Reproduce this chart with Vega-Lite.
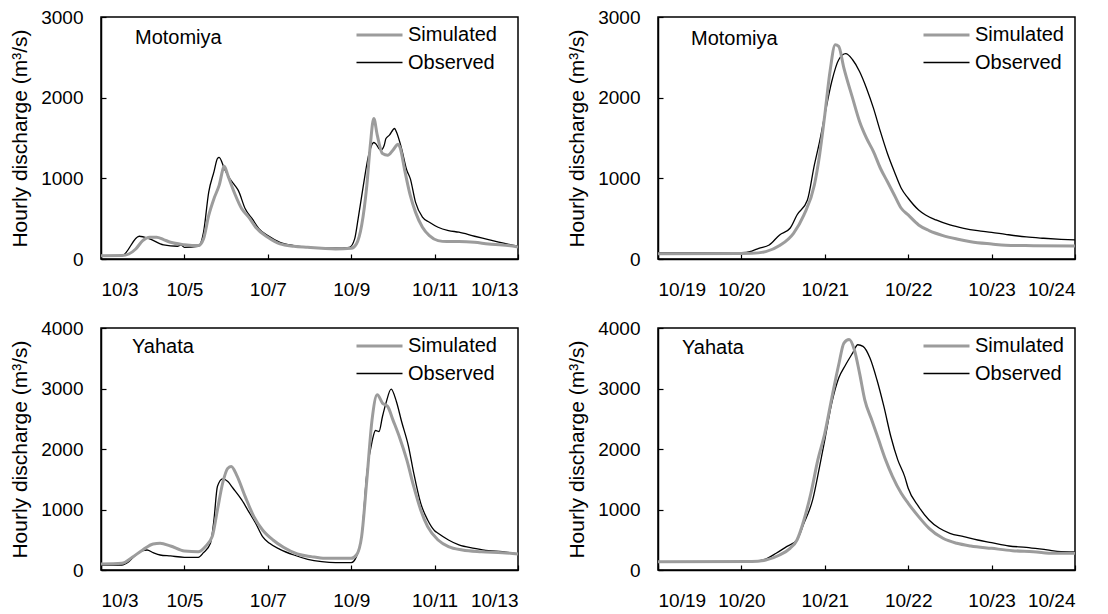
{
  "$schema": "https://vega.github.io/schema/vega-lite/v6.json",
  "background": "white",
  "padding": {"left": 8, "top": 7, "right": 5, "bottom": 5},
  "config": {
    "font": "Liberation Sans",
    "view": {"stroke": "#000", "strokeWidth": 1.5},
    "line": {"interpolate": "monotone"},
    "axis": {"grid": false, "domainColor": "#000", "domainWidth": 1.5, "tickColor": "#000", "tickWidth": 1.2, "tickSize": -5, "labelFont": "Liberation Sans", "labelFontSize": 19, "labelColor": "#000", "titleFont": "Liberation Sans", "titleFontSize": 21, "titleFontWeight": "normal", "titleColor": "#000"},
    "axisX": {"labelPadding": 26, "title": null, "labelOverlap": false, "format": "%-m/%-d"},
    "axisY": {"labelPadding": 23, "titlePadding": 10, "format": "d"},
    "legend": {"orient": "top-right", "labelFont": "Liberation Sans", "labelFontSize": 20, "labelColor": "#000", "symbolSize": 529, "symbolType": "M-3,0H1", "rowPadding": 5, "offset": 5, "padding": 0, "labelOffset": 4, "titleOrient": "right", "titleFontSize": 1, "titleColor": "#ffffff"},
    "title": {"anchor": "start", "frame": "group", "fontSize": 20, "fontWeight": "normal", "color": "#000", "font": "Liberation Sans", "baseline": "alphabetic"}
  },
  "datasets": {
    "p1": [
      {"t": "2004-10-03T00:00", "q": 35, "s": "Observed"},
      {"t": "2004-10-03T12:00", "q": 40, "s": "Observed"},
      {"t": "2004-10-03T22:00", "q": 282, "s": "Observed"},
      {"t": "2004-10-04T04:00", "q": 249, "s": "Observed"},
      {"t": "2004-10-04T12:00", "q": 174, "s": "Observed"},
      {"t": "2004-10-04T20:00", "q": 158, "s": "Observed"},
      {"t": "2004-10-04T22:00", "q": 175, "s": "Observed"},
      {"t": "2004-10-05T00:00", "q": 145, "s": "Observed"},
      {"t": "2004-10-05T08:00", "q": 158, "s": "Observed"},
      {"t": "2004-10-05T11:00", "q": 330, "s": "Observed"},
      {"t": "2004-10-05T14:00", "q": 830, "s": "Observed"},
      {"t": "2004-10-05T17:00", "q": 1080, "s": "Observed"},
      {"t": "2004-10-05T19:00", "q": 1245, "s": "Observed"},
      {"t": "2004-10-05T20:00", "q": 1260, "s": "Observed"},
      {"t": "2004-10-05T23:00", "q": 1120, "s": "Observed"},
      {"t": "2004-10-06T02:00", "q": 1000, "s": "Observed"},
      {"t": "2004-10-06T05:00", "q": 913, "s": "Observed"},
      {"t": "2004-10-06T07:00", "q": 850, "s": "Observed"},
      {"t": "2004-10-06T11:00", "q": 622, "s": "Observed"},
      {"t": "2004-10-06T15:00", "q": 500, "s": "Observed"},
      {"t": "2004-10-06T19:00", "q": 373, "s": "Observed"},
      {"t": "2004-10-07T00:00", "q": 290, "s": "Observed"},
      {"t": "2004-10-07T07:00", "q": 207, "s": "Observed"},
      {"t": "2004-10-07T15:00", "q": 166, "s": "Observed"},
      {"t": "2004-10-07T23:00", "q": 145, "s": "Observed"},
      {"t": "2004-10-08T07:00", "q": 133, "s": "Observed"},
      {"t": "2004-10-08T15:00", "q": 133, "s": "Observed"},
      {"t": "2004-10-08T23:00", "q": 145, "s": "Observed"},
      {"t": "2004-10-09T02:00", "q": 249, "s": "Observed"},
      {"t": "2004-10-09T04:00", "q": 500, "s": "Observed"},
      {"t": "2004-10-09T07:00", "q": 913, "s": "Observed"},
      {"t": "2004-10-09T10:00", "q": 1285, "s": "Observed"},
      {"t": "2004-10-09T13:00", "q": 1444, "s": "Observed"},
      {"t": "2004-10-09T14:00", "q": 1431, "s": "Observed"},
      {"t": "2004-10-09T17:00", "q": 1349, "s": "Observed"},
      {"t": "2004-10-09T19:00", "q": 1411, "s": "Observed"},
      {"t": "2004-10-09T20:00", "q": 1494, "s": "Observed"},
      {"t": "2004-10-09T22:00", "q": 1535, "s": "Observed"},
      {"t": "2004-10-10T01:00", "q": 1618, "s": "Observed"},
      {"t": "2004-10-10T02:00", "q": 1577, "s": "Observed"},
      {"t": "2004-10-10T05:00", "q": 1369, "s": "Observed"},
      {"t": "2004-10-10T08:00", "q": 1100, "s": "Observed"},
      {"t": "2004-10-10T10:00", "q": 996, "s": "Observed"},
      {"t": "2004-10-10T13:00", "q": 705, "s": "Observed"},
      {"t": "2004-10-10T17:00", "q": 519, "s": "Observed"},
      {"t": "2004-10-10T21:00", "q": 456, "s": "Observed"},
      {"t": "2004-10-11T02:00", "q": 394, "s": "Observed"},
      {"t": "2004-10-11T08:00", "q": 353, "s": "Observed"},
      {"t": "2004-10-11T14:00", "q": 332, "s": "Observed"},
      {"t": "2004-10-11T23:00", "q": 282, "s": "Observed"},
      {"t": "2004-10-12T07:00", "q": 241, "s": "Observed"},
      {"t": "2004-10-12T15:00", "q": 199, "s": "Observed"},
      {"t": "2004-10-13T00:00", "q": 160, "s": "Observed"},
      {"t": "2004-10-03T00:00", "q": 40, "s": "Simulated"},
      {"t": "2004-10-03T12:00", "q": 42, "s": "Simulated"},
      {"t": "2004-10-03T16:00", "q": 62, "s": "Simulated"},
      {"t": "2004-10-03T20:00", "q": 124, "s": "Simulated"},
      {"t": "2004-10-04T00:00", "q": 228, "s": "Simulated"},
      {"t": "2004-10-04T04:00", "q": 270, "s": "Simulated"},
      {"t": "2004-10-04T08:00", "q": 270, "s": "Simulated"},
      {"t": "2004-10-04T12:00", "q": 241, "s": "Simulated"},
      {"t": "2004-10-04T16:00", "q": 207, "s": "Simulated"},
      {"t": "2004-10-05T00:00", "q": 178, "s": "Simulated"},
      {"t": "2004-10-05T08:00", "q": 166, "s": "Simulated"},
      {"t": "2004-10-05T11:00", "q": 249, "s": "Simulated"},
      {"t": "2004-10-05T14:00", "q": 540, "s": "Simulated"},
      {"t": "2004-10-05T17:00", "q": 747, "s": "Simulated"},
      {"t": "2004-10-05T20:00", "q": 913, "s": "Simulated"},
      {"t": "2004-10-05T23:00", "q": 1150, "s": "Simulated"},
      {"t": "2004-10-06T01:00", "q": 1037, "s": "Simulated"},
      {"t": "2004-10-06T05:00", "q": 809, "s": "Simulated"},
      {"t": "2004-10-06T09:00", "q": 622, "s": "Simulated"},
      {"t": "2004-10-06T13:00", "q": 519, "s": "Simulated"},
      {"t": "2004-10-06T17:00", "q": 394, "s": "Simulated"},
      {"t": "2004-10-07T00:00", "q": 270, "s": "Simulated"},
      {"t": "2004-10-07T07:00", "q": 187, "s": "Simulated"},
      {"t": "2004-10-07T15:00", "q": 158, "s": "Simulated"},
      {"t": "2004-10-07T23:00", "q": 145, "s": "Simulated"},
      {"t": "2004-10-08T07:00", "q": 133, "s": "Simulated"},
      {"t": "2004-10-08T15:00", "q": 124, "s": "Simulated"},
      {"t": "2004-10-09T00:00", "q": 133, "s": "Simulated"},
      {"t": "2004-10-09T03:00", "q": 187, "s": "Simulated"},
      {"t": "2004-10-09T06:00", "q": 415, "s": "Simulated"},
      {"t": "2004-10-09T09:00", "q": 913, "s": "Simulated"},
      {"t": "2004-10-09T11:00", "q": 1411, "s": "Simulated"},
      {"t": "2004-10-09T13:00", "q": 1743, "s": "Simulated"},
      {"t": "2004-10-09T15:00", "q": 1535, "s": "Simulated"},
      {"t": "2004-10-09T18:00", "q": 1307, "s": "Simulated"},
      {"t": "2004-10-09T21:00", "q": 1286, "s": "Simulated"},
      {"t": "2004-10-10T00:00", "q": 1349, "s": "Simulated"},
      {"t": "2004-10-10T03:00", "q": 1423, "s": "Simulated"},
      {"t": "2004-10-10T04:00", "q": 1390, "s": "Simulated"},
      {"t": "2004-10-10T07:00", "q": 1079, "s": "Simulated"},
      {"t": "2004-10-10T10:00", "q": 788, "s": "Simulated"},
      {"t": "2004-10-10T13:00", "q": 581, "s": "Simulated"},
      {"t": "2004-10-10T17:00", "q": 394, "s": "Simulated"},
      {"t": "2004-10-10T21:00", "q": 290, "s": "Simulated"},
      {"t": "2004-10-11T02:00", "q": 228, "s": "Simulated"},
      {"t": "2004-10-11T07:00", "q": 216, "s": "Simulated"},
      {"t": "2004-10-11T14:00", "q": 216, "s": "Simulated"},
      {"t": "2004-10-11T23:00", "q": 207, "s": "Simulated"},
      {"t": "2004-10-12T07:00", "q": 187, "s": "Simulated"},
      {"t": "2004-10-12T15:00", "q": 174, "s": "Simulated"},
      {"t": "2004-10-13T00:00", "q": 150, "s": "Simulated"}
    ],
    "p2": [
      {"t": "2004-10-19T00:00", "q": 75, "s": "Observed"},
      {"t": "2004-10-20T00:00", "q": 78, "s": "Observed"},
      {"t": "2004-10-20T03:00", "q": 99, "s": "Observed"},
      {"t": "2004-10-20T05:00", "q": 132, "s": "Observed"},
      {"t": "2004-10-20T08:00", "q": 174, "s": "Observed"},
      {"t": "2004-10-20T11:00", "q": 298, "s": "Observed"},
      {"t": "2004-10-20T14:00", "q": 381, "s": "Observed"},
      {"t": "2004-10-20T16:00", "q": 546, "s": "Observed"},
      {"t": "2004-10-20T19:00", "q": 732, "s": "Observed"},
      {"t": "2004-10-20T21:00", "q": 1167, "s": "Observed"},
      {"t": "2004-10-20T22:30", "q": 1456, "s": "Observed"},
      {"t": "2004-10-21T00:00", "q": 1787, "s": "Observed"},
      {"t": "2004-10-21T02:00", "q": 2200, "s": "Observed"},
      {"t": "2004-10-21T04:00", "q": 2470, "s": "Observed"},
      {"t": "2004-10-21T06:00", "q": 2545, "s": "Observed"},
      {"t": "2004-10-21T08:00", "q": 2470, "s": "Observed"},
      {"t": "2004-10-21T10:00", "q": 2325, "s": "Observed"},
      {"t": "2004-10-21T12:00", "q": 2118, "s": "Observed"},
      {"t": "2004-10-21T14:00", "q": 1870, "s": "Observed"},
      {"t": "2004-10-21T16:00", "q": 1580, "s": "Observed"},
      {"t": "2004-10-21T18:00", "q": 1311, "s": "Observed"},
      {"t": "2004-10-21T20:00", "q": 1084, "s": "Observed"},
      {"t": "2004-10-21T22:00", "q": 877, "s": "Observed"},
      {"t": "2004-10-22T00:00", "q": 753, "s": "Observed"},
      {"t": "2004-10-22T03:00", "q": 608, "s": "Observed"},
      {"t": "2004-10-22T05:00", "q": 546, "s": "Observed"},
      {"t": "2004-10-22T08:00", "q": 484, "s": "Observed"},
      {"t": "2004-10-22T12:00", "q": 422, "s": "Observed"},
      {"t": "2004-10-22T16:00", "q": 381, "s": "Observed"},
      {"t": "2004-10-22T20:00", "q": 352, "s": "Observed"},
      {"t": "2004-10-23T00:00", "q": 331, "s": "Observed"},
      {"t": "2004-10-23T04:00", "q": 306, "s": "Observed"},
      {"t": "2004-10-23T10:00", "q": 273, "s": "Observed"},
      {"t": "2004-10-23T15:00", "q": 257, "s": "Observed"},
      {"t": "2004-10-23T20:00", "q": 244, "s": "Observed"},
      {"t": "2004-10-24T00:00", "q": 236, "s": "Observed"},
      {"t": "2004-10-19T00:00", "q": 66, "s": "Simulated"},
      {"t": "2004-10-20T00:00", "q": 68, "s": "Simulated"},
      {"t": "2004-10-20T03:00", "q": 70, "s": "Simulated"},
      {"t": "2004-10-20T07:00", "q": 91, "s": "Simulated"},
      {"t": "2004-10-20T11:00", "q": 166, "s": "Simulated"},
      {"t": "2004-10-20T15:00", "q": 319, "s": "Simulated"},
      {"t": "2004-10-20T18:00", "q": 546, "s": "Simulated"},
      {"t": "2004-10-20T21:00", "q": 918, "s": "Simulated"},
      {"t": "2004-10-20T22:30", "q": 1290, "s": "Simulated"},
      {"t": "2004-10-21T00:00", "q": 1787, "s": "Simulated"},
      {"t": "2004-10-21T01:30", "q": 2325, "s": "Simulated"},
      {"t": "2004-10-21T03:00", "q": 2656, "s": "Simulated"},
      {"t": "2004-10-21T04:00", "q": 2635, "s": "Simulated"},
      {"t": "2004-10-21T05:30", "q": 2366, "s": "Simulated"},
      {"t": "2004-10-21T08:00", "q": 1994, "s": "Simulated"},
      {"t": "2004-10-21T10:00", "q": 1705, "s": "Simulated"},
      {"t": "2004-10-21T12:00", "q": 1498, "s": "Simulated"},
      {"t": "2004-10-21T14:00", "q": 1332, "s": "Simulated"},
      {"t": "2004-10-21T16:00", "q": 1125, "s": "Simulated"},
      {"t": "2004-10-21T18:00", "q": 960, "s": "Simulated"},
      {"t": "2004-10-21T20:00", "q": 794, "s": "Simulated"},
      {"t": "2004-10-21T22:00", "q": 629, "s": "Simulated"},
      {"t": "2004-10-22T00:00", "q": 546, "s": "Simulated"},
      {"t": "2004-10-22T03:00", "q": 422, "s": "Simulated"},
      {"t": "2004-10-22T06:00", "q": 352, "s": "Simulated"},
      {"t": "2004-10-22T10:00", "q": 290, "s": "Simulated"},
      {"t": "2004-10-22T14:00", "q": 248, "s": "Simulated"},
      {"t": "2004-10-22T18:00", "q": 215, "s": "Simulated"},
      {"t": "2004-10-23T00:00", "q": 186, "s": "Simulated"},
      {"t": "2004-10-23T04:00", "q": 170, "s": "Simulated"},
      {"t": "2004-10-23T12:00", "q": 165, "s": "Simulated"},
      {"t": "2004-10-24T00:00", "q": 160, "s": "Simulated"}
    ],
    "p3": [
      {"t": "2004-10-03T00:00", "q": 83, "s": "Observed"},
      {"t": "2004-10-03T12:00", "q": 83, "s": "Observed"},
      {"t": "2004-10-03T16:00", "q": 138, "s": "Observed"},
      {"t": "2004-10-03T20:00", "q": 248, "s": "Observed"},
      {"t": "2004-10-04T00:00", "q": 320, "s": "Observed"},
      {"t": "2004-10-04T02:30", "q": 331, "s": "Observed"},
      {"t": "2004-10-04T06:00", "q": 287, "s": "Observed"},
      {"t": "2004-10-04T10:00", "q": 248, "s": "Observed"},
      {"t": "2004-10-04T16:00", "q": 232, "s": "Observed"},
      {"t": "2004-10-05T00:00", "q": 210, "s": "Observed"},
      {"t": "2004-10-05T08:00", "q": 210, "s": "Observed"},
      {"t": "2004-10-05T11:00", "q": 287, "s": "Observed"},
      {"t": "2004-10-05T15:00", "q": 441, "s": "Observed"},
      {"t": "2004-10-05T17:00", "q": 827, "s": "Observed"},
      {"t": "2004-10-05T19:00", "q": 1379, "s": "Observed"},
      {"t": "2004-10-05T22:00", "q": 1506, "s": "Observed"},
      {"t": "2004-10-06T01:00", "q": 1462, "s": "Observed"},
      {"t": "2004-10-06T04:00", "q": 1351, "s": "Observed"},
      {"t": "2004-10-06T09:00", "q": 1158, "s": "Observed"},
      {"t": "2004-10-06T13:00", "q": 965, "s": "Observed"},
      {"t": "2004-10-06T17:00", "q": 772, "s": "Observed"},
      {"t": "2004-10-06T21:00", "q": 552, "s": "Observed"},
      {"t": "2004-10-07T01:00", "q": 441, "s": "Observed"},
      {"t": "2004-10-07T07:00", "q": 342, "s": "Observed"},
      {"t": "2004-10-07T15:00", "q": 248, "s": "Observed"},
      {"t": "2004-10-07T23:00", "q": 177, "s": "Observed"},
      {"t": "2004-10-08T07:00", "q": 138, "s": "Observed"},
      {"t": "2004-10-08T15:00", "q": 121, "s": "Observed"},
      {"t": "2004-10-09T00:00", "q": 121, "s": "Observed"},
      {"t": "2004-10-09T03:00", "q": 221, "s": "Observed"},
      {"t": "2004-10-09T06:00", "q": 552, "s": "Observed"},
      {"t": "2004-10-09T09:00", "q": 1600, "s": "Observed"},
      {"t": "2004-10-09T12:00", "q": 2124, "s": "Observed"},
      {"t": "2004-10-09T14:00", "q": 2306, "s": "Observed"},
      {"t": "2004-10-09T16:00", "q": 2289, "s": "Observed"},
      {"t": "2004-10-09T18:00", "q": 2537, "s": "Observed"},
      {"t": "2004-10-09T20:00", "q": 2758, "s": "Observed"},
      {"t": "2004-10-09T23:00", "q": 2990, "s": "Observed"},
      {"t": "2004-10-10T02:00", "q": 2785, "s": "Observed"},
      {"t": "2004-10-10T05:00", "q": 2454, "s": "Observed"},
      {"t": "2004-10-10T09:00", "q": 2041, "s": "Observed"},
      {"t": "2004-10-10T12:00", "q": 1600, "s": "Observed"},
      {"t": "2004-10-10T16:00", "q": 1103, "s": "Observed"},
      {"t": "2004-10-10T20:00", "q": 827, "s": "Observed"},
      {"t": "2004-10-11T00:00", "q": 650, "s": "Observed"},
      {"t": "2004-10-11T02:00", "q": 607, "s": "Observed"},
      {"t": "2004-10-11T08:00", "q": 496, "s": "Observed"},
      {"t": "2004-10-11T14:00", "q": 414, "s": "Observed"},
      {"t": "2004-10-11T23:00", "q": 358, "s": "Observed"},
      {"t": "2004-10-12T07:00", "q": 320, "s": "Observed"},
      {"t": "2004-10-12T15:00", "q": 303, "s": "Observed"},
      {"t": "2004-10-13T00:00", "q": 265, "s": "Observed"},
      {"t": "2004-10-03T00:00", "q": 99, "s": "Simulated"},
      {"t": "2004-10-03T12:00", "q": 110, "s": "Simulated"},
      {"t": "2004-10-03T18:00", "q": 210, "s": "Simulated"},
      {"t": "2004-10-04T00:00", "q": 331, "s": "Simulated"},
      {"t": "2004-10-04T06:00", "q": 430, "s": "Simulated"},
      {"t": "2004-10-04T10:00", "q": 441, "s": "Simulated"},
      {"t": "2004-10-04T16:00", "q": 397, "s": "Simulated"},
      {"t": "2004-10-05T00:00", "q": 314, "s": "Simulated"},
      {"t": "2004-10-05T08:00", "q": 303, "s": "Simulated"},
      {"t": "2004-10-05T12:00", "q": 386, "s": "Simulated"},
      {"t": "2004-10-05T16:00", "q": 552, "s": "Simulated"},
      {"t": "2004-10-05T19:00", "q": 993, "s": "Simulated"},
      {"t": "2004-10-05T22:00", "q": 1434, "s": "Simulated"},
      {"t": "2004-10-06T01:00", "q": 1682, "s": "Simulated"},
      {"t": "2004-10-06T03:00", "q": 1710, "s": "Simulated"},
      {"t": "2004-10-06T06:00", "q": 1572, "s": "Simulated"},
      {"t": "2004-10-06T11:00", "q": 1213, "s": "Simulated"},
      {"t": "2004-10-06T16:00", "q": 882, "s": "Simulated"},
      {"t": "2004-10-06T21:00", "q": 662, "s": "Simulated"},
      {"t": "2004-10-07T03:00", "q": 496, "s": "Simulated"},
      {"t": "2004-10-07T09:00", "q": 375, "s": "Simulated"},
      {"t": "2004-10-07T17:00", "q": 265, "s": "Simulated"},
      {"t": "2004-10-08T01:00", "q": 221, "s": "Simulated"},
      {"t": "2004-10-08T09:00", "q": 193, "s": "Simulated"},
      {"t": "2004-10-09T00:00", "q": 193, "s": "Simulated"},
      {"t": "2004-10-09T03:00", "q": 248, "s": "Simulated"},
      {"t": "2004-10-09T06:00", "q": 552, "s": "Simulated"},
      {"t": "2004-10-09T09:00", "q": 1489, "s": "Simulated"},
      {"t": "2004-10-09T12:00", "q": 2482, "s": "Simulated"},
      {"t": "2004-10-09T15:00", "q": 2896, "s": "Simulated"},
      {"t": "2004-10-09T18:00", "q": 2758, "s": "Simulated"},
      {"t": "2004-10-09T21:00", "q": 2703, "s": "Simulated"},
      {"t": "2004-10-10T00:00", "q": 2482, "s": "Simulated"},
      {"t": "2004-10-10T04:00", "q": 2179, "s": "Simulated"},
      {"t": "2004-10-10T08:00", "q": 1820, "s": "Simulated"},
      {"t": "2004-10-10T12:00", "q": 1379, "s": "Simulated"},
      {"t": "2004-10-10T16:00", "q": 993, "s": "Simulated"},
      {"t": "2004-10-10T20:00", "q": 717, "s": "Simulated"},
      {"t": "2004-10-11T02:00", "q": 496, "s": "Simulated"},
      {"t": "2004-10-11T08:00", "q": 386, "s": "Simulated"},
      {"t": "2004-10-11T16:00", "q": 331, "s": "Simulated"},
      {"t": "2004-10-12T03:00", "q": 303, "s": "Simulated"},
      {"t": "2004-10-12T15:00", "q": 287, "s": "Simulated"},
      {"t": "2004-10-13T00:00", "q": 265, "s": "Simulated"}
    ],
    "p4": [
      {"t": "2004-10-19T00:00", "q": 138, "s": "Observed"},
      {"t": "2004-10-20T03:00", "q": 140, "s": "Observed"},
      {"t": "2004-10-20T07:00", "q": 182, "s": "Observed"},
      {"t": "2004-10-20T10:00", "q": 276, "s": "Observed"},
      {"t": "2004-10-20T13:00", "q": 386, "s": "Observed"},
      {"t": "2004-10-20T16:00", "q": 496, "s": "Observed"},
      {"t": "2004-10-20T18:00", "q": 772, "s": "Observed"},
      {"t": "2004-10-20T20:30", "q": 1158, "s": "Observed"},
      {"t": "2004-10-20T22:30", "q": 1710, "s": "Observed"},
      {"t": "2004-10-21T00:00", "q": 2151, "s": "Observed"},
      {"t": "2004-10-21T02:00", "q": 2758, "s": "Observed"},
      {"t": "2004-10-21T04:00", "q": 3172, "s": "Observed"},
      {"t": "2004-10-21T06:00", "q": 3392, "s": "Observed"},
      {"t": "2004-10-21T08:00", "q": 3585, "s": "Observed"},
      {"t": "2004-10-21T09:30", "q": 3723, "s": "Observed"},
      {"t": "2004-10-21T11:00", "q": 3696, "s": "Observed"},
      {"t": "2004-10-21T13:00", "q": 3503, "s": "Observed"},
      {"t": "2004-10-21T15:00", "q": 3144, "s": "Observed"},
      {"t": "2004-10-21T17:00", "q": 2703, "s": "Observed"},
      {"t": "2004-10-21T19:00", "q": 2206, "s": "Observed"},
      {"t": "2004-10-21T21:00", "q": 1820, "s": "Observed"},
      {"t": "2004-10-21T23:00", "q": 1544, "s": "Observed"},
      {"t": "2004-10-22T00:00", "q": 1351, "s": "Observed"},
      {"t": "2004-10-22T03:00", "q": 1048, "s": "Observed"},
      {"t": "2004-10-22T06:00", "q": 827, "s": "Observed"},
      {"t": "2004-10-22T09:00", "q": 689, "s": "Observed"},
      {"t": "2004-10-22T12:00", "q": 607, "s": "Observed"},
      {"t": "2004-10-22T16:00", "q": 552, "s": "Observed"},
      {"t": "2004-10-22T20:00", "q": 496, "s": "Observed"},
      {"t": "2004-10-23T00:00", "q": 452, "s": "Observed"},
      {"t": "2004-10-23T05:00", "q": 397, "s": "Observed"},
      {"t": "2004-10-23T10:00", "q": 375, "s": "Observed"},
      {"t": "2004-10-23T16:00", "q": 331, "s": "Observed"},
      {"t": "2004-10-23T20:00", "q": 303, "s": "Observed"},
      {"t": "2004-10-24T00:00", "q": 300, "s": "Observed"},
      {"t": "2004-10-19T00:00", "q": 138, "s": "Simulated"},
      {"t": "2004-10-20T03:00", "q": 140, "s": "Simulated"},
      {"t": "2004-10-20T07:00", "q": 165, "s": "Simulated"},
      {"t": "2004-10-20T11:00", "q": 248, "s": "Simulated"},
      {"t": "2004-10-20T14:00", "q": 358, "s": "Simulated"},
      {"t": "2004-10-20T16:00", "q": 496, "s": "Simulated"},
      {"t": "2004-10-20T18:00", "q": 827, "s": "Simulated"},
      {"t": "2004-10-20T20:00", "q": 1268, "s": "Simulated"},
      {"t": "2004-10-20T22:00", "q": 1820, "s": "Simulated"},
      {"t": "2004-10-21T00:00", "q": 2261, "s": "Simulated"},
      {"t": "2004-10-21T02:00", "q": 2840, "s": "Simulated"},
      {"t": "2004-10-21T04:00", "q": 3392, "s": "Simulated"},
      {"t": "2004-10-21T05:30", "q": 3751, "s": "Simulated"},
      {"t": "2004-10-21T07:00", "q": 3810, "s": "Simulated"},
      {"t": "2004-10-21T08:30", "q": 3640, "s": "Simulated"},
      {"t": "2004-10-21T10:00", "q": 3254, "s": "Simulated"},
      {"t": "2004-10-21T11:30", "q": 2813, "s": "Simulated"},
      {"t": "2004-10-21T13:30", "q": 2482, "s": "Simulated"},
      {"t": "2004-10-21T15:30", "q": 2151, "s": "Simulated"},
      {"t": "2004-10-21T17:30", "q": 1820, "s": "Simulated"},
      {"t": "2004-10-21T19:30", "q": 1544, "s": "Simulated"},
      {"t": "2004-10-21T22:00", "q": 1268, "s": "Simulated"},
      {"t": "2004-10-22T00:00", "q": 1103, "s": "Simulated"},
      {"t": "2004-10-22T03:00", "q": 882, "s": "Simulated"},
      {"t": "2004-10-22T06:00", "q": 689, "s": "Simulated"},
      {"t": "2004-10-22T10:00", "q": 524, "s": "Simulated"},
      {"t": "2004-10-22T14:00", "q": 441, "s": "Simulated"},
      {"t": "2004-10-22T18:00", "q": 397, "s": "Simulated"},
      {"t": "2004-10-23T00:00", "q": 358, "s": "Simulated"},
      {"t": "2004-10-23T06:00", "q": 320, "s": "Simulated"},
      {"t": "2004-10-23T12:00", "q": 303, "s": "Simulated"},
      {"t": "2004-10-23T18:00", "q": 276, "s": "Simulated"},
      {"t": "2004-10-24T00:00", "q": 276, "s": "Simulated"}
    ]
  },
  "columns": 2,
  "spacing": {"row": 69, "column": 140},
  "bounds": "flush",
  "resolve": {"scale": {"color": "independent", "strokeWidth": "independent"}},
  "concat": [
    {
      "width": 417, "height": 242,
      "title": {"text": "Motomiya", "dx": 34, "offset": -40},
      "data": {"name": "p1"},
      "mark": {"type": "line"},
      "encoding": {
        "x": {"field": "t", "type": "temporal", "scale": {"domain": [{"year": 2004, "month": 10, "date": 3}, {"year": 2004, "month": 10, "date": 13}]}, "axis": {"tickCount": {"interval": "day", "step": 2}}},
        "y": {"field": "q", "type": "quantitative", "scale": {"domain": [0, 3000]}, "axis": {"values": [0, 1000, 2000, 3000], "title": "Hourly discharge (m³/s)"}},
        "color": {"field": "s", "type": "nominal", "scale": {"domain": ["Simulated", "Observed"], "range": ["#9c9c9c", "#000000"]}, "legend": {"title": " ", "titlePadding": 16}},
        "strokeWidth": {"field": "s", "type": "nominal", "scale": {"domain": ["Simulated", "Observed"], "range": [3, 1.3]}, "legend": {"title": " ", "titlePadding": 16}}
      }
    },
    {
      "width": 417, "height": 242,
      "title": {"text": "Motomiya", "dx": 33, "offset": -41},
      "data": {"name": "p2"},
      "mark": {"type": "line"},
      "encoding": {
        "x": {"field": "t", "type": "temporal", "scale": {"domain": [{"year": 2004, "month": 10, "date": 19}, {"year": 2004, "month": 10, "date": 24}]}, "axis": {"tickCount": {"interval": "day", "step": 1}}},
        "y": {"field": "q", "type": "quantitative", "scale": {"domain": [0, 3000]}, "axis": {"values": [0, 1000, 2000, 3000], "title": "Hourly discharge (m³/s)"}},
        "color": {"field": "s", "type": "nominal", "scale": {"domain": ["Simulated", "Observed"], "range": ["#9c9c9c", "#000000"]}, "legend": {"title": " ", "titlePadding": 6}},
        "strokeWidth": {"field": "s", "type": "nominal", "scale": {"domain": ["Simulated", "Observed"], "range": [3, 1.3]}, "legend": {"title": " ", "titlePadding": 6}}
      }
    },
    {
      "width": 417, "height": 242,
      "title": {"text": "Yahata", "dx": 31, "offset": -38},
      "data": {"name": "p3"},
      "mark": {"type": "line"},
      "encoding": {
        "x": {"field": "t", "type": "temporal", "scale": {"domain": [{"year": 2004, "month": 10, "date": 3}, {"year": 2004, "month": 10, "date": 13}]}, "axis": {"tickCount": {"interval": "day", "step": 2}}},
        "y": {"field": "q", "type": "quantitative", "scale": {"domain": [0, 4000]}, "axis": {"values": [0, 1000, 2000, 3000, 4000], "title": "Hourly discharge (m³/s)"}},
        "color": {"field": "s", "type": "nominal", "scale": {"domain": ["Simulated", "Observed"], "range": ["#9c9c9c", "#000000"]}, "legend": {"title": " ", "titlePadding": 16}},
        "strokeWidth": {"field": "s", "type": "nominal", "scale": {"domain": ["Simulated", "Observed"], "range": [3, 1.3]}, "legend": {"title": " ", "titlePadding": 16}}
      }
    },
    {
      "width": 417, "height": 242,
      "title": {"text": "Yahata", "dx": 24, "offset": -39},
      "data": {"name": "p4"},
      "mark": {"type": "line"},
      "encoding": {
        "x": {"field": "t", "type": "temporal", "scale": {"domain": [{"year": 2004, "month": 10, "date": 19}, {"year": 2004, "month": 10, "date": 24}]}, "axis": {"tickCount": {"interval": "day", "step": 1}}},
        "y": {"field": "q", "type": "quantitative", "scale": {"domain": [0, 4000]}, "axis": {"values": [0, 1000, 2000, 3000, 4000], "title": "Hourly discharge (m³/s)"}},
        "color": {"field": "s", "type": "nominal", "scale": {"domain": ["Simulated", "Observed"], "range": ["#9c9c9c", "#000000"]}, "legend": {"title": " ", "titlePadding": 6}},
        "strokeWidth": {"field": "s", "type": "nominal", "scale": {"domain": ["Simulated", "Observed"], "range": [3, 1.3]}, "legend": {"title": " ", "titlePadding": 6}}
      }
    }
  ]
}
